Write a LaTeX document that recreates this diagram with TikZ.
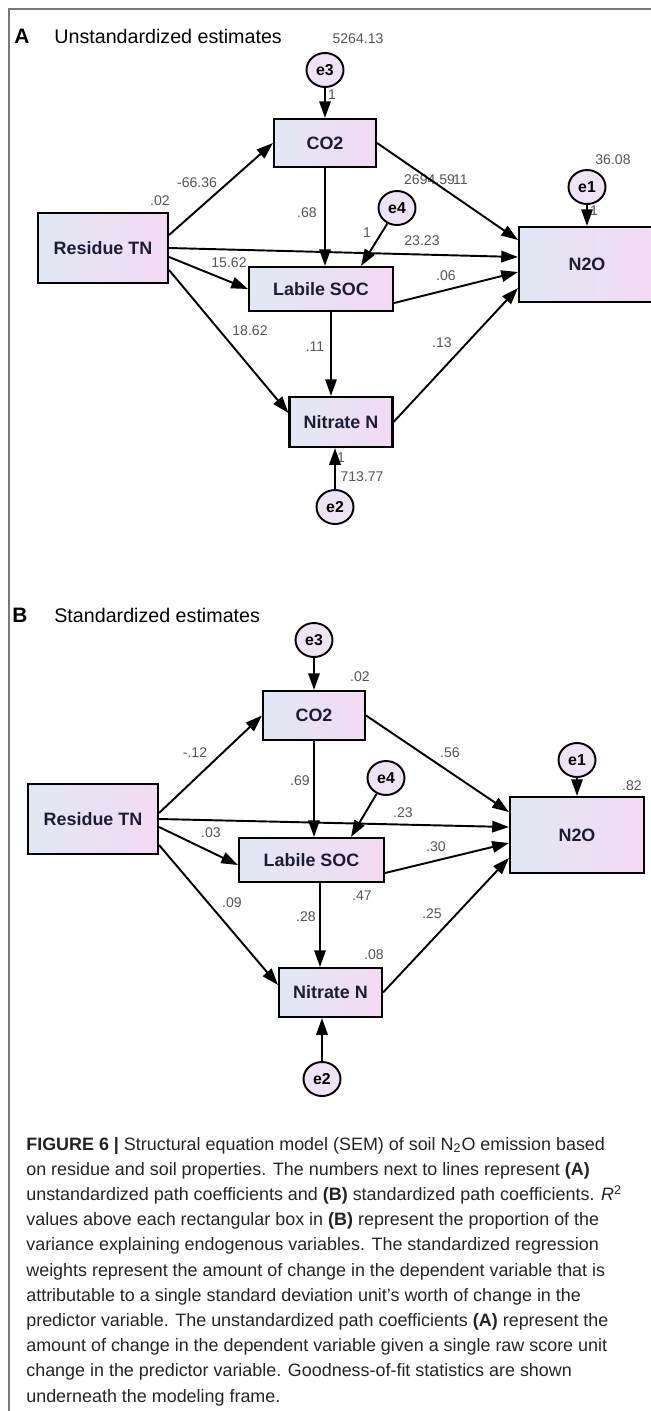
\documentclass[tikz,border=0pt]{standalone}
\usepackage{fontspec}
\setmainfont{Liberation Sans}
\usetikzlibrary{arrows.meta,positioning,shapes.geometric}
\definecolor{boxleft}{RGB}{226,232,243}
\definecolor{boxright}{RGB}{243,218,243}
\definecolor{errfill}{RGB}{238,228,246}
\definecolor{coefgray}{RGB}{85,85,85}
\definecolor{varink}{RGB}{28,28,55}
\definecolor{framegray}{RGB}{120,120,120}
\definecolor{captionink}{RGB}{35,35,35}
\newcommand{\fsz}[2]{\fontsize{#1}{#2}\selectfont}

\begin{document}
\begin{tikzpicture}[x=0.02cm,y=-0.02cm,
  var/.style={draw,line width=1.2pt,left color=boxleft,right color=boxright,inner sep=0pt,font=\bfseries\fsz{10.2}{12},text=varink},
  err/.style={ellipse,draw,line width=1.1pt,fill=errfill,minimum width=0.74cm,minimum height=0.68cm,inner sep=0pt,font=\bfseries\fsz{9}{10}},
  coef/.style={inner sep=0pt,font=\fsz{8}{9},text=coefgray},
  effect/.style={-{Triangle[length=9.5pt,width=6.5pt]},line width=1.1pt},
  panel/.style={anchor=west,inner sep=0pt,font=\fsz{11.2}{13}}]
\useasboundingbox (0,0) rectangle (651,1411);
\draw[framegray,line width=0.9pt] (9,1411) -- (9,9) -- (651,9);

% panel A: unstandardized
\node[inner sep=0pt,font=\bfseries\fsz{11.9}{14}] (tagA) at (22,36) {A};
\node[panel] (titleA) at (54,36) {Unstandardized estimates};
\node[var,minimum width=2.6cm,minimum height=1.4cm] (resA) at (103,248) {Residue TN};
\node[var,minimum width=2.04cm,minimum height=0.96cm] (co2A) at (325,143) {CO2};
\node[var,minimum width=2.88cm,minimum height=0.88cm] (socA) at (321,289) {Labile SOC};
\node[var,minimum width=2.06cm,minimum height=1.0cm] (nitA) at (341,422) {Nitrate N};
\node[var,minimum width=2.72cm,minimum height=1.5cm] (n2oA) at (587,264.5) {N2O};
\node[err] (e3A) at (325,70) {e3};
\node[err] (e1A) at (587,187) {e1};
\node[err] (e4A) at (397,208) {e4};
\node[err] (e2A) at (335,507) {e2};
\node[coef] (vA3) at (358,39) {5264.13};
\node[coef] (wA3) at (332,95) {1};
\node[coef] (kA1) at (197,183) {-66.36};
\node[coef] (vA0) at (160,201) {.02};
\node[coef] (kA2) at (436,180) {2694.59\kern-1pt11};
\node[coef] (vA1) at (613,160) {36.08};
\node[coef] (wA1) at (594,211) {1};
\node[coef] (kA3) at (307,213) {.68};
\node[coef] (wA4) at (367,233) {1};
\node[coef] (kA4) at (422,241) {23.23};
\node[coef] (kA5) at (229,263) {15.62};
\node[coef] (kA6) at (446,276) {.06};
\node[coef] (kA7) at (250,331) {18.62};
\node[coef] (kA8) at (315,347) {.11};
\node[coef] (kA9) at (442,343) {.13};
\node[coef] (wA2) at (341,458) {1};
\node[coef] (vA2) at (362,477) {713.77};
\draw[effect] ([yshift=0.26cm]resA.east) -- (co2A.west);
\draw[effect] (resA.east) -- ([yshift=0.15cm]n2oA.west);
\draw[effect] ([yshift=-0.18cm]resA.east) -- (socA.west);
\draw[effect] ([yshift=-0.44cm]resA.east) -- ([yshift=0.18cm]nitA.west);
\draw[effect] (co2A.south) -- (co2A.south |- socA.north);
\draw[effect] (co2A.east) -- ([yshift=0.49cm]n2oA.west);
\draw[effect] ([yshift=-0.28cm]socA.east) -- ([yshift=-0.15cm]n2oA.west);
\draw[effect] ([xshift=-0.2cm]nitA.north |- socA.south) -- ([xshift=-0.2cm]nitA.north);
\draw[effect] (nitA.east) -- ([yshift=-0.47cm]n2oA.west);
\draw[effect] (e3A) -- (co2A.north);
\draw[effect] (e1A) -- (n2oA.north);
\draw[effect] (e4A) -- ([xshift=0.8cm]socA.north);
\draw[effect] (e2A) -- (e2A |- nitA.south);

% panel B: standardized
\node[inner sep=0pt,font=\bfseries\fsz{11.9}{14}] (tagB) at (20,615) {B};
\node[panel] (titleB) at (54,615) {Standardized estimates};
\node[var,minimum width=2.6cm,minimum height=1.4cm] (resB) at (93,819) {Residue TN};
\node[var,minimum width=2.04cm,minimum height=0.98cm] (co2B) at (314,715.5) {CO2};
\node[var,minimum width=2.9cm,minimum height=0.88cm] (socB) at (311.5,860) {Labile SOC};
\node[var,minimum width=2.06cm,minimum height=0.98cm] (nitB) at (330.5,992.5) {Nitrate N};
\node[var,minimum width=2.68cm,minimum height=1.52cm] (n2oB) at (577,835) {N2O};
\node[err] (e3B) at (314,640) {e3};
\node[err] (e1B) at (577,760) {e1};
\node[err] (e4B) at (386,778) {e4};
\node[err] (e2B) at (322,1079) {e2};
\node[coef] (rB2) at (360,677) {.02};
\node[coef] (kB1) at (195,753) {-.12};
\node[coef] (kB2) at (450,753) {.56};
\node[coef] (kB3) at (300,781) {.69};
\node[coef] (rB1) at (632,786) {.82};
\node[coef] (kB4) at (403,813) {.23};
\node[coef] (kB5) at (211,833) {.03};
\node[coef] (kB6) at (436,847) {.30};
\node[coef] (rB4) at (362,896) {.47};
\node[coef] (kB7) at (232,903) {.09};
\node[coef] (kB9) at (432,914) {.25};
\node[coef] (kB8) at (306,917) {.28};
\node[coef] (rB3) at (374,955) {.08};
\draw[effect] ([yshift=0.12cm]resB.east) -- (co2B.west);
\draw[effect] (resB.east) -- ([yshift=0.16cm]n2oB.west);
\draw[effect] ([yshift=-0.16cm]resB.east) -- ([yshift=-0.1cm]socB.west);
\draw[effect] ([yshift=-0.52cm]resB.east) -- ([yshift=0.15cm]nitB.west);
\draw[effect] (co2B.south) -- (co2B.south |- socB.north);
\draw[effect] (co2B.east) -- ([yshift=0.46cm]n2oB.west);
\draw[effect] ([yshift=-0.26cm]socB.east) -- ([yshift=-0.16cm]n2oB.west);
\draw[effect] ([xshift=-0.21cm]nitB.north |- socB.south) -- ([xshift=-0.21cm]nitB.north);
\draw[effect] (nitB.east) -- ([yshift=-0.46cm]n2oB.west);
\draw[effect] (e3B) -- (co2B.north);
\draw[effect] (e1B) -- (n2oB.north);
\draw[effect] (e4B) -- ([xshift=0.79cm]socB.north);
\draw[effect] (e2B) -- (e2B |- nitB.south);

% caption, placed by the baseline of its last line
\node[anchor=base west,align=left,inner sep=0pt,font=\fsz{10.2}{14.34},text=captionink] (caption) at (26,1402)
{\textbf{FIGURE 6 |} Structural equation model (SEM) of soil N\textsubscript{2}O emission based\\
on residue and soil properties. The numbers next to lines represent \textbf{(A)}\\
unstandardized path coefficients and \textbf{(B)} standardized path coefficients. \textit{R}\textsuperscript{2}\\
values above each rectangular box in \textbf{(B)} represent the proportion of the\\
variance explaining endogenous variables. The standardized regression\\
weights represent the amount of change in the dependent variable that is\\
attributable to a single standard deviation unit’s worth of change in the\\
predictor variable. The unstandardized path coefficients \textbf{(A)} represent the\\
amount of change in the dependent variable given a single raw score unit\\
change in the predictor variable. Goodness-of-fit statistics are shown\\
underneath the modeling frame.};
\end{tikzpicture}
\end{document}
